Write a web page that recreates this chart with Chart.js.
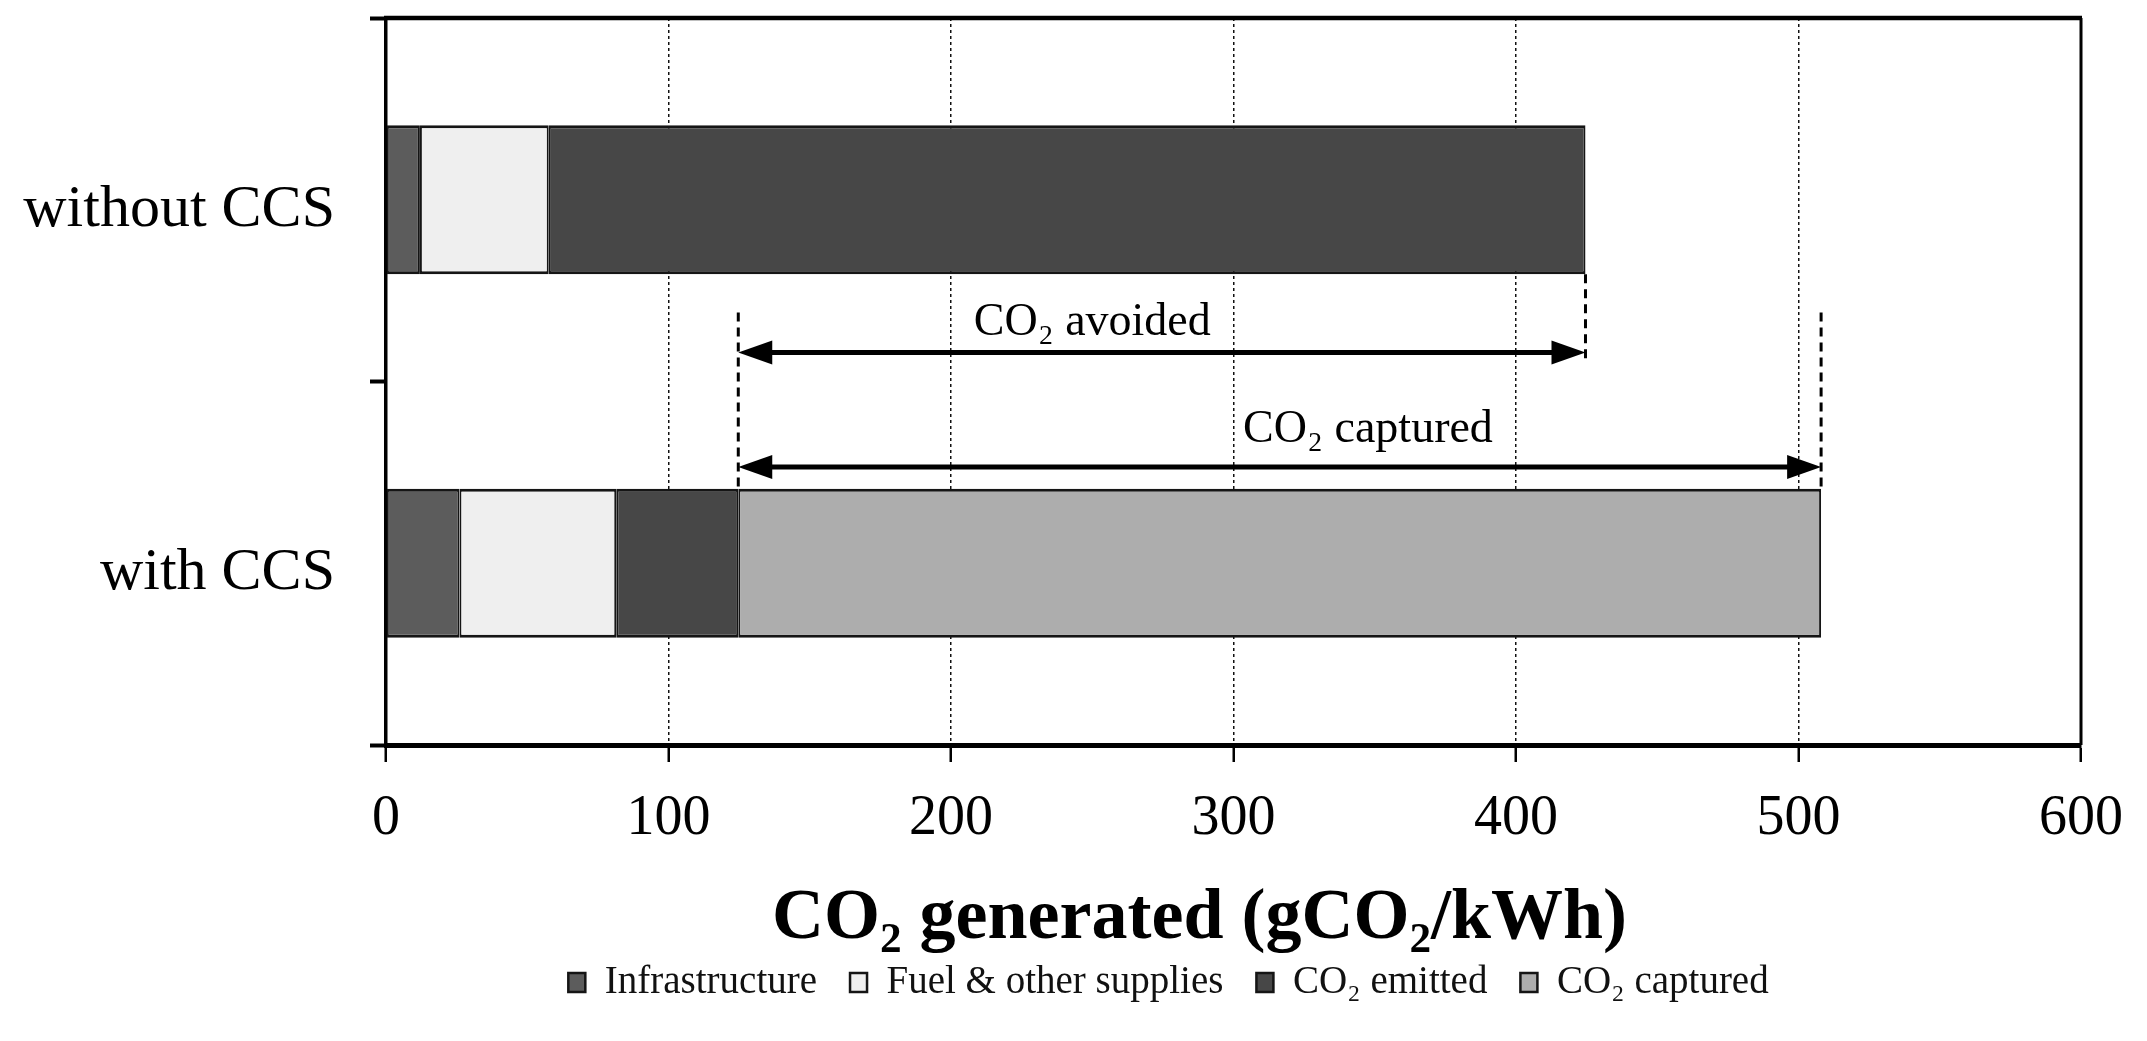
<!DOCTYPE html>
<html><head><meta charset="utf-8">
<script src="https://cdn.jsdelivr.net/npm/chart.js@4.4.1/dist/chart.umd.min.js"></script>
<style>html,body{margin:0;padding:0;background:#fff;} #wrap{width:2147px;height:1041px;position:relative;}</style>
</head><body><div id="wrap"><canvas id="c"></canvas></div>
<script>
const categories = ['without CCS', 'with CCS'];
const seriesNames = ['Infrastructure', 'Fuel & other supplies', 'CO₂ emitted', 'CO₂ captured'];
const infrastructure = [12, 26];
const fuelSupplies = [45.6, 55.5];
const co2Emitted = [367, 43.2];
const co2Captured = [0, 383.3];
const xTickValues = [0, 100, 200, 300, 400, 500, 600];
const annotationLabels = ['CO₂ avoided', 'CO₂ captured'];
const axisTitle = 'CO₂ generated (gCO₂/kWh)';

const colors = ['#5c5c5c', '#efefef', '#474747', '#adadad'];
const serif = "'Liberation Serif', 'Times New Roman', serif";

const sum = (i, n) => [infrastructure, fuelSupplies, co2Emitted, co2Captured].slice(0, n).reduce((a, arr) => a + arr[i], 0);

const annotate = {
  id: 'annotate',
  afterLayout(chart) {
    const lg = chart.legend;
    if (lg) { lg.left += 127; lg.right += 127; }
  },
  afterDatasetsDraw(chart) {
    const ctx = chart.ctx, xs = chart.scales.x, ys = chart.scales.y;
    const X = v => xs.getPixelForValue(v), Y = v => ys.getPixelForValue(v);
    const emittedEnd = sum(1, 3), withoutTotal = sum(0, 4), withTotal = sum(1, 4);
    ctx.save();
    ctx.strokeStyle = '#000'; ctx.lineWidth = 3; ctx.setLineDash([9, 6]);
    const vline = (v, a, b) => { ctx.beginPath(); ctx.moveTo(X(v), Y(a)); ctx.lineTo(X(v), Y(b)); ctx.stroke(); };
    vline(emittedEnd, 0.31, 0.795);
    vline(withoutTotal, 0.205, 0.44);
    vline(withTotal, 0.31, 0.795);
    ctx.setLineDash([]);
    const arrow = (a, b, yv) => {
      const x1 = X(a), x2 = X(b), y = Y(yv), hl = 34, hw = 12;
      ctx.lineWidth = 5; ctx.beginPath(); ctx.moveTo(x1 + hl - 2, y); ctx.lineTo(x2 - hl + 2, y); ctx.stroke();
      ctx.fillStyle = '#000';
      ctx.beginPath(); ctx.moveTo(x1, y); ctx.lineTo(x1 + hl, y - hw); ctx.lineTo(x1 + hl, y + hw); ctx.closePath(); ctx.fill();
      ctx.beginPath(); ctx.moveTo(x2, y); ctx.lineTo(x2 - hl, y - hw); ctx.lineTo(x2 - hl, y + hw); ctx.closePath(); ctx.fill();
    };
    arrow(emittedEnd, withoutTotal, 0.42);
    arrow(emittedEnd, withTotal, 0.735);
    ctx.font = '46px ' + serif; ctx.fillStyle = '#000'; ctx.textAlign = 'center'; ctx.textBaseline = 'middle';
    ctx.fillText(annotationLabels[0], X(250), Y(0.338));
    ctx.fillText(annotationLabels[1], X(347.6), Y(0.632));
    ctx.restore();
  },
  afterDraw(chart) {
    const ctx = chart.ctx, a = chart.chartArea;
    ctx.save(); ctx.strokeStyle = '#000';
    ctx.lineWidth = 4.5; ctx.beginPath(); ctx.moveTo(a.left - 2, a.top); ctx.lineTo(a.right + 1, a.top); ctx.stroke();
    ctx.lineWidth = 3; ctx.beginPath(); ctx.moveTo(a.right, a.top); ctx.lineTo(a.right, a.bottom); ctx.stroke();
    ctx.font = 'bold 72px ' + serif; ctx.fillStyle = '#000'; ctx.textAlign = 'center'; ctx.textBaseline = 'middle';
    ctx.fillText(axisTitle, a.left + (a.right - a.left) / 2 - 34, 919);
    ctx.restore();
  }
};

const dataSets = [infrastructure, fuelSupplies, co2Emitted, co2Captured].map((d, i) => ({
  label: seriesNames[i], data: d, backgroundColor: colors[i], borderColor: '#151515',
  borderWidth: { top: 3, bottom: 3, left: 2, right: 2 },
  borderSkipped: false, barPercentage: 0.41, categoryPercentage: 1.0
}));

new Chart(document.getElementById('c'), {
  type: 'bar',
  data: { labels: categories, datasets: dataSets },
  options: {
    indexAxis: 'y', responsive: true, maintainAspectRatio: false, animation: false,
    layout: { padding: { left: 0, right: 64, top: 18, bottom: 29 } },
    plugins: {
      tooltip: { enabled: false },
      legend: {
        position: 'bottom',
        labels: { font: { family: serif, size: 39 }, color: '#111', boxWidth: 17, boxHeight: 19, padding: 33 }
      }
    },
    scales: {
      x: {
        stacked: true, min: 0, max: 600,
        afterBuildTicks: s => { s.ticks = xTickValues.map(v => ({ value: v })); },
        afterFit: s => { s.height = 185; },
        ticks: { font: { family: serif, size: 56 }, color: '#000', padding: 24 },
        grid: {
          color: c => (c.tick && (c.tick.value === 0 || c.tick.value === 600)) ? 'rgba(0,0,0,0)' : '#111',
          lineWidth: 1.5, tickColor: '#000', tickWidth: 2.5, tickLength: 17
        },
        border: { display: true, color: '#000', width: 5, dash: [3, 3] },
        title: { display: false }
      },
      y: {
        stacked: true,
        afterFit: s => { s.width = 386; s.paddingTop = 0; s.paddingBottom = 0; },
        ticks: { font: { family: serif, size: 60 }, color: '#000', padding: 35, labelOffset: 10 },
        grid: { display: true, drawOnChartArea: false, drawTicks: true, tickLength: 16, tickWidth: 4, tickColor: '#000', offset: true },
        border: { display: true, color: '#000', width: 3.5 }
      }
    }
  },
  plugins: [annotate]
});
</script></body></html>
